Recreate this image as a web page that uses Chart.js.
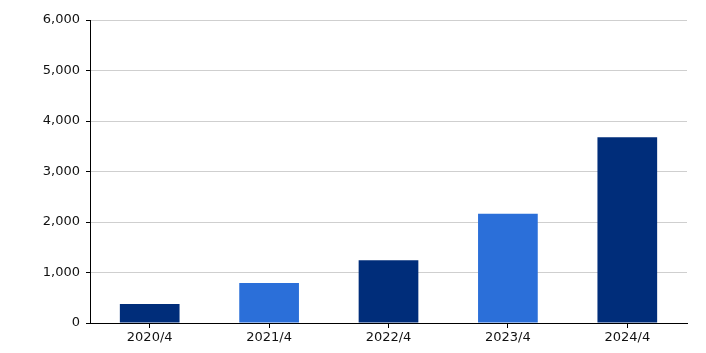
<!DOCTYPE html>
<html>
<head>
<meta charset="utf-8">
<script src="https://cdn.jsdelivr.net/npm/chart.js@4/dist/chart.umd.min.js"></script>
<style>
  html, body { margin: 0; padding: 0; background: #fff; }
  #wrap { width: 706px; height: 353px; }
</style>
</head>
<body>
<div id="wrap"><canvas id="barChart" width="706" height="353"></canvas></div>
<script>
var categories = ['2020/4', '2021/4', '2022/4', '2023/4', '2024/4'];
var values = [376, 792, 1242, 2164, 3677];
var barColors = ['#002D7A', '#2B6FD9', '#002D7A', '#2B6FD9', '#002D7A'];
var yTicks = [0, 1000, 2000, 3000, 4000, 5000, 6000];

document.addEventListener('DOMContentLoaded', function () {
  var ctx = document.getElementById('barChart').getContext('2d');
  new Chart(ctx, {
    type: 'bar',
    data: {
      labels: categories,
      datasets: [{ data: values, backgroundColor: barColors, borderWidth: 0 }],
    },
    options: {
      responsive: false,
      animation: false,
      layout: { padding: { top: 20, right: 19, left: 0, bottom: 0 } },
      plugins: { legend: { display: false }, tooltip: { enabled: false } },
      datasets: { bar: { barPercentage: 0.5, categoryPercentage: 1 } },
      scales: {
        x: {
          offset: true,
          grid: {
            offset: false,
            drawOnChartArea: false,
            tickColor: '#000',
            tickLength: 5,
          },
          border: { color: '#000', width: 1 },
          ticks: { color: '#111', font: { family: 'DejaVu Sans', size: 13 }, padding: 2 },
          afterFit: function (axis) { axis.height = 30; },
        },
        y: {
          min: 0,
          max: 6000,
          afterBuildTicks: function (axis) {
            axis.ticks = yTicks.map(function (v) { return { value: v }; });
          },
          grid: { color: '#cfcfcf', tickColor: '#000', tickLength: 4 },
          border: { color: '#000', width: 1 },
          ticks: {
            color: '#111',
            font: { family: 'DejaVu Sans', size: 13 },
            padding: 6,
            callback: function (v) { return v.toLocaleString('en-US'); },
          },
          afterFit: function (axis) { axis.width = 90; },
        },
      },
    },
  });
});
</script>
</body>
</html>
